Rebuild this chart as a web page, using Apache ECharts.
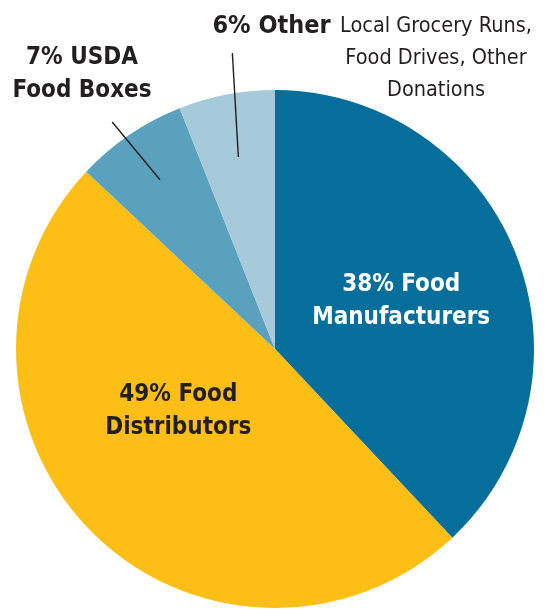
<!DOCTYPE html>
<html>
<head>
<meta charset="utf-8">
<script src="https://cdn.jsdelivr.net/npm/echarts@6/dist/echarts.min.js"></script>
<style>
  html, body { margin: 0; padding: 0; background: #ffffff; }
  #chart { width: 545px; height: 610px; }
</style>
</head>
<body>
<div id="chart"></div>
<script>
// ---- data ----
const categories = ['Food Manufacturers', 'Food Distributors', 'USDA Food Boxes', 'Other'];
const shares = [38, 49, 7, 6];
const sliceColors = ['#056e9b', '#fdbf16', '#5aa1be', '#a7cadb'];
const labelHeads = ['38% Food\nManufacturers', '49% Food\nDistributors', '7% USDA\nFood Boxes', '6% Other'];
const otherNote = ['Local Grocery Runs,', 'Food Drives, Other', 'Donations'];

// ---- geometry ----
const CX = 275, CY = 349, R = 259;
const BOLD = '"DejaVu Sans Condensed", "DejaVu Sans", sans-serif';
const TEXT = '#231f20';

const total = shares.reduce((a, b) => a + b, 0);
function midAngle(i) { // degrees, clockwise from 12 o'clock
  let before = 0;
  for (let k = 0; k < i; k++) before += shares[k];
  return (before + shares[i] / 2) / total * 360;
}
function polar(angleDeg, r, ox, oy) {
  const a = angleDeg * Math.PI / 180;
  return [ox + r * Math.sin(a), oy - r * Math.cos(a)];
}

// label placement (text only)
const labelPlace = [
  { dx: 3, dy: 1 },
  { dx: -3, dy: -31 },
  { x: 82, y: 74, align: 'center', verticalAlign: 'middle' },
  { x: 202, y: 58, align: 'left', verticalAlign: 'middle' }
];

const data = categories.map((c, i) => {
  const item = { name: c, value: shares[i], itemStyle: { color: sliceColors[i] } };
  if (i < 2) {
    item.label = {
      show: true, position: 'inner', formatter: labelHeads[i],
      color: i === 0 ? '#ffffff' : TEXT,
      fontFamily: BOLD, fontWeight: 'bold', fontSize: 24, lineHeight: 33, align: 'center'
    };
  } else if (i === 2) {
    item.label = {
      show: true, position: 'outside', formatter: labelHeads[i],
      color: TEXT, fontFamily: BOLD, fontWeight: 'bold', fontSize: 24, lineHeight: 33, align: 'center'
    };
    item.labelLine = { show: false };
  } else {
    item.label = {
      show: true, position: 'outside',
      formatter: '{h|' + labelHeads[i] + '}{n|' + otherNote[0] + '}\n{s|}{n|' + otherNote[1] + '}\n{s|}{n|' + otherNote[2] + '}',
      rich: {
        h: { fontFamily: BOLD, fontWeight: 'bold', fontSize: 25, color: TEXT, width: 139, align: 'right', lineHeight: 32 },
        s: { width: 139, lineHeight: 32 },
        n: { fontFamily: BOLD, fontWeight: 'normal', fontSize: 21.5, color: TEXT, width: 190, align: 'center', lineHeight: 32 }
      }
    };
    item.labelLine = { show: false };
  }
  return item;
});

// leader lines: start inside the slice at its mid angle, go out toward the label
const leaders = [
  { index: 2, r: 0.79, len: 75, dir: 320.4 },
  { index: 3, r: 0.755, len: 104, dir: 356.7 }
];
const graphics = leaders.map(l => {
  const s = polar(midAngle(l.index), R * l.r, CX, CY);
  const e = polar(l.dir, l.len, s[0], s[1]);
  return {
    type: 'line', z: 100,
    shape: { x1: s[0], y1: s[1], x2: e[0], y2: e[1] },
    style: { stroke: TEXT, lineWidth: 1.4 }
  };
});

const chart = echarts.init(document.getElementById('chart'), null, { renderer: 'canvas' });
chart.setOption({
  backgroundColor: '#ffffff',
  animation: false,
  graphic: graphics,
  series: [{
    type: 'pie',
    center: [CX, CY],
    radius: [0, R],
    startAngle: 90,
    clockwise: true,
    avoidLabelOverlap: false,
    silent: true,
    itemStyle: { borderWidth: 0 },
    labelLayout: function (p) { return labelPlace[p.dataIndex]; },
    data: data
  }]
});
</script>
</body>
</html>
